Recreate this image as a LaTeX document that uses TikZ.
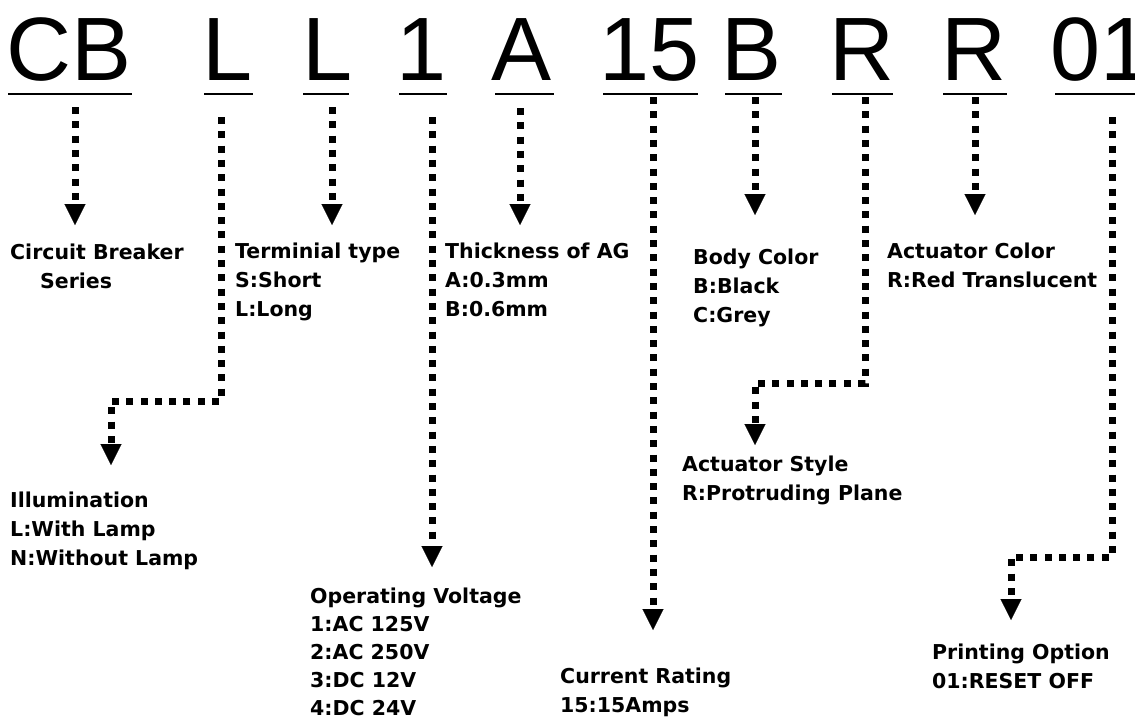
\documentclass[tikz,border=0pt]{standalone}
\usepackage{fontspec}
\setmainfont{DejaVu Sans}
\newfontfamily\hdrfont{Liberation Sans}
\usetikzlibrary{arrows.meta}
\begin{document}
\begin{tikzpicture}[x=1pt,y=-1pt,
  hdr/.style={anchor=base, inner sep=0pt, font=\hdrfont\fontsize{90}{90}\selectfont},
  lbl/.style={anchor=base west, inner sep=0pt, align=left, font=\fontsize{20.5}{29}\selectfont\bfseries},
  uline/.style={line width=1.3pt},
  conn/.style={line width=7pt, dash pattern=on 7pt off 7.3pt,
    -{Triangle[width=21pt,length=21pt,line width=0.1pt]}}]
\useasboundingbox (0,0) rectangle (1135,718);
% header code letters
\node[hdr] (hCB) at (69,80) {CB};
\node[hdr] (hL1) at (228,80) {L};
\node[hdr] (hL2) at (328,80) {L};
\node[hdr] (h1) at (422,80) {1};
\node[hdr] (hA) at (522,80) {A};
\node[hdr] (h15) at (650,80) {15};
\node[hdr] (hB) at (752,80) {B};
\node[hdr] (hR1) at (862,80) {R};
\node[hdr] (hR2) at (974,80) {R};
\node[hdr] (h01) at (1101,80) {01};
% underlines
\draw[uline] (8,94) -- (132,94);
\draw[uline] (204,94) -- (253,94);
\draw[uline] (303,94) -- (349,94);
\draw[uline] (399,94) -- (447,94);
\draw[uline] (495,94) -- (554,94);
\draw[uline] (603,94) -- (698,94);
\draw[uline] (725,94) -- (782,94);
\draw[uline] (832,94) -- (893,94);
\draw[uline] (943,94) -- (1007,94);
\draw[uline] (1055,94) -- (1135,94);
% labels (anchored at the baseline of their last line)
\node[lbl] (lCB) at (10,288) {Circuit Breaker\\\hspace*{30pt}Series};
\node[lbl] (lIll) at (10,565) {Illumination\\L:With Lamp\\N:Without Lamp};
\node[lbl] (lTer) at (235,316) {Terminial type\\S:Short\\L:Long};
\node[lbl, font=\fontsize{20.5}{28}\selectfont\bfseries] (lVolt) at (310,715) {Operating Voltage\\1:AC 125V\\2:AC 250V\\3:DC 12V\\4:DC 24V};
\node[lbl] (lA) at (445,316) {Thickness of AG\\A:0.3mm\\B:0.6mm};
\node[lbl] (lCur) at (560,712) {Current Rating\\15:15Amps};
\node[lbl] (lBody) at (693,322) {Body Color\\B:Black\\C:Grey};
\node[lbl] (lSty) at (682,500) {Actuator Style\\R:Protruding Plane};
\node[lbl] (lCol) at (887,287) {Actuator Color\\R:Red Translucent};
\node[lbl] (lPri) at (932,688) {Printing Option\\01:RESET OFF};
% connector ends
\coordinate (sCB) at (75,107);   \coordinate (tCB) at (75,225);
\coordinate (sL1) at (221,117);  \coordinate (bL1) at (111,401); \coordinate (tL1) at (111,465);
\coordinate (sL2) at (332,107);  \coordinate (tL2) at (332,225);
\coordinate (s1) at (432,117);   \coordinate (t1) at (432,567);
\coordinate (sA) at (520,108);   \coordinate (tA) at (520,225);
\coordinate (s15) at (653,97);   \coordinate (t15) at (653,630);
\coordinate (sB) at (755,97);    \coordinate (tB) at (755,215);
\coordinate (sR1) at (865,97);   \coordinate (bR1) at (755,383); \coordinate (tR1) at (755,445);
\coordinate (sR2) at (975,97);   \coordinate (tR2) at (975,215);
\coordinate (s01) at (1112,117); \coordinate (b01) at (1011,557); \coordinate (t01) at (1011,620);
% connectors
\draw[conn] (sCB) -- (tCB);
\draw[conn] (sL1) |- (bL1) -- (tL1);
\draw[conn] (sL2) -- (tL2);
\draw[conn] (s1) -- (t1);
\draw[conn] (sA) -- (tA);
\draw[conn] (s15) -- (t15);
\draw[conn] (sB) -- (tB);
\draw[conn] (sR1) |- (bR1) -- (tR1);
\draw[conn] (sR2) -- (tR2);
\draw[conn] (s01) |- (b01) -- (t01);
\end{tikzpicture}
\end{document}
